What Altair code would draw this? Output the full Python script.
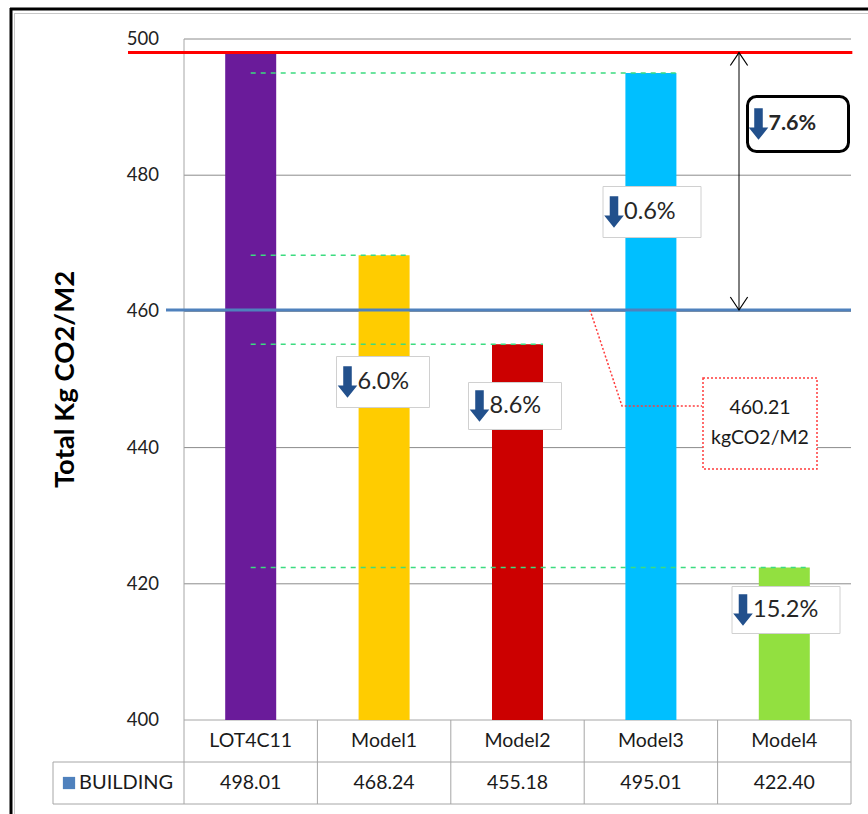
import altair as alt
import pandas as pd

# ---- data -------------------------------------------------------------
categories = ["LOT4C11", "Model1", "Model2", "Model3", "Model4"]
values = [498.01, 468.24, 455.18, 495.01, 422.40]
bar_colors = ["#6A1B9A", "#FFCC00", "#CC0000", "#00BFFF", "#92E040"]
target_value = 460.21
target_unit = "kgCO2/M2"
series_name = "BUILDING"
y_ticks = [400, 420, 440, 460, 480, 500]
y_title = "Total Kg CO2/M2"

base_value = values[0]

# ---- layout -----------------------------------------------------------
W, H = 868, 814
PL, PT, PR, PB = 184, 39, 851, 720          # plot rectangle in page pixels
Y_MIN, Y_MAX = 400, 500
N = len(categories)
PX_X = (PR - PL) / N                        # pixels per category slot
PX_Y = (PB - PT) / (Y_MAX - Y_MIN)          # pixels per kg
BAR_HALF = 25.5 / PX_X
FONT = "Lato"


def ux(px):
    return (px - PL) / PX_X - 0.5


def vy(py):
    return Y_MAX - (py - PT) / PX_Y


ROW1 = vy(762)       # bottom of category row
ROW2 = vy(804)       # bottom of value row
TABLE_LEFT = ux(53)

xs = alt.Scale(domain=[-0.5, N - 0.5])
ys = alt.Scale(domain=[Y_MIN, Y_MAX])


def X(f):
    return alt.X(f"{f}:Q", scale=xs, axis=None)


def Y(f):
    return alt.Y(f"{f}:Q", scale=ys, axis=None)


# ---- bars -------------------------------------------------------------
bars_df = pd.DataFrame({"category": categories, "idx": list(range(N)), "value": values})
bars_df["x0"] = bars_df["idx"] - BAR_HALF
bars_df["x1"] = bars_df["idx"] + BAR_HALF
bars_df["floor"] = Y_MIN

bars = alt.Chart(bars_df).mark_rect().encode(
    x=X("x0"), x2="x1", y=Y("floor"), y2="value",
    color=alt.Color("category:N", scale=alt.Scale(domain=categories, range=bar_colors), legend=None),
)

# ---- grid, plot frame and table lines --------------------------------
grid_df = pd.DataFrame({"y": [t for t in y_ticks if t > Y_MIN], "x0": -0.5, "x1": N - 0.5})
grid = alt.Chart(grid_df).mark_rule(color="#8C8C8C", strokeWidth=1).encode(
    x=X("x0"), x2="x1", y=Y("y"))

hlines_df = pd.DataFrame({
    "y": [Y_MIN, ROW1, ROW2],
    "x0": [-0.5, TABLE_LEFT, TABLE_LEFT],
    "x1": [N - 0.5] * 3,
})
hlines = alt.Chart(hlines_df).mark_rule(color="#A6A6A6", strokeWidth=1).encode(
    x=X("x0"), x2="x1", y=Y("y"))

vlines_df = pd.DataFrame({
    "x": [TABLE_LEFT] + [i - 0.5 for i in range(N + 1)],
    "y0": [ROW1] + [Y_MAX] + [Y_MIN] * N,
    "y1": [ROW2] * (N + 2),
})
vlines = alt.Chart(vlines_df).mark_rule(color="#A6A6A6", strokeWidth=1).encode(
    x=X("x"), y=Y("y0"), y2="y1")

# ---- table text -------------------------------------------------------
cat_df = pd.DataFrame({"x": list(range(N)), "y": (Y_MIN + ROW1) / 2, "t": categories})
cat_text = alt.Chart(cat_df).mark_text(font=FONT, fontSize=19.5, color="#1A1A1A").encode(
    x=X("x"), y=Y("y"), text="t:N")

val_df = pd.DataFrame({"x": list(range(N)), "y": (ROW1 + ROW2) / 2,
                       "t": [f"{v:.2f}" for v in values]})
val_text = alt.Chart(val_df).mark_text(font=FONT, fontSize=19.5, color="#1A1A1A").encode(
    x=X("x"), y=Y("y"), text="t:N")

legend_sq = alt.Chart(pd.DataFrame({"x": [ux(69)], "y": [(ROW1 + ROW2) / 2]})).mark_point(
    shape="square", filled=True, size=150, color="#4F81BD", opacity=1).encode(x=X("x"), y=Y("y"))
legend_txt = alt.Chart(pd.DataFrame({"x": [ux(79)], "y": [(ROW1 + ROW2) / 2], "t": [series_name]})).mark_text(
    font=FONT, fontSize=20, color="#1A1A1A", align="left").encode(x=X("x"), y=Y("y"), text="t:N")

# ---- y axis labels and title -----------------------------------------
tick_df = pd.DataFrame({"y": y_ticks, "x": ux(159), "t": [str(t) for t in y_ticks]})
tick_text = alt.Chart(tick_df).mark_text(font=FONT, fontSize=18.5, color="#222222", align="right").encode(
    x=X("x"), y=Y("y"), text="t:N")

title_text = alt.Chart(pd.DataFrame({"x": [ux(66)], "y": [(Y_MIN + Y_MAX) / 2], "t": [y_title]})).mark_text(
    font=FONT, fontSize=27.5, fontWeight="bold", color="#000000", angle=270).encode(
    x=X("x"), y=Y("y"), text="t:N")

# ---- reference lines --------------------------------------------------
base_line = alt.Chart(pd.DataFrame({"y": [base_value], "x0": [ux(128)], "x1": [N - 0.5 + 0.01]})).mark_rule(
    strokeWidth=3, color="#FF0000").encode(x=X("x0"), x2="x1", y=Y("y"))
target_line = alt.Chart(pd.DataFrame({"y": [target_value], "x0": [ux(166)], "x1": [N - 0.5]})).mark_rule(
    strokeWidth=3, color="#4F81BD").encode(x=X("x0"), x2="x1", y=Y("y"))

dash_df = bars_df.iloc[1:].copy()
dash_df["start"] = 0.0
dashes = alt.Chart(dash_df).mark_rule(color="#3CDC80", strokeWidth=1.6, strokeDash=[5, 5]).encode(
    x=X("start"), x2="x1", y=Y("value"))

# ---- double-headed arrow between baseline and target -----------------
ARROW_X = ux(739)
span = alt.Chart(pd.DataFrame({"x": [ARROW_X], "y0": [base_value], "y1": [target_value]})).mark_rule(
    color="#000000", strokeWidth=1).encode(x=X("x"), y=Y("y0"), y2="y1")
head_up = alt.Chart(pd.DataFrame({"x": [ARROW_X], "y": [base_value]})).mark_point(
    shape="M-1,1.5L0,0L1,1.5", size=300, filled=False, color="#000000", strokeWidth=1.2, opacity=1).encode(
    x=X("x"), y=Y("y"))
head_dn = alt.Chart(pd.DataFrame({"x": [ARROW_X], "y": [target_value]})).mark_point(
    shape="M-1,-1.5L0,0L1,-1.5", size=300, filled=False, color="#000000", strokeWidth=1.2, opacity=1).encode(
    x=X("x"), y=Y("y"))

# ---- target call-out ---------------------------------------------------
leader_df = pd.DataFrame({
    "x": [ux(590), ux(622), ux(702)],
    "y": [target_value, vy(406), vy(406)],
    "o": [0, 1, 2],
})
leader = alt.Chart(leader_df).mark_line(color="#FF3B3B", strokeWidth=1.5, strokeDash=[2, 2]).encode(
    x=X("x"), y=Y("y"), order="o:Q")

callout_box = alt.Chart(pd.DataFrame({"x0": [ux(703)], "x1": [ux(817)], "y0": [vy(378)], "y1": [vy(469)]})).mark_rect(
    fill="#FFFFFF", stroke="#FF3B3B", strokeWidth=1.5, strokeDash=[2, 2]).encode(
    x=X("x0"), x2="x1", y=Y("y0"), y2="y1")

callout_txt = alt.Chart(pd.DataFrame({
    "x": [ux(760), ux(760)],
    "y": [vy(408), vy(438)],
    "t": [f"{target_value:.2f}", target_unit],
})).mark_text(font=FONT, fontSize=19.5, color="#1A1A1A").encode(x=X("x"), y=Y("y"), text="t:N")

# ---- reduction labels ---------------------------------------------------
pcts = [(base_value - v) / base_value * 100 for v in values[1:]] + [(base_value - target_value) / base_value * 100]
# box centre (page px), box width, box height
boxes_px = [(383, 382, 93, 51), (515, 406, 93, 47), (652, 212, 98, 51), (786, 610, 108, 47), (798, 124, 101, 55)]

lab_df = pd.DataFrame({
    "t": [f"{p:.1f}%" for p in pcts],
    "x0": [ux(cx - w / 2) for cx, cy, w, h in boxes_px],
    "x1": [ux(cx + w / 2) for cx, cy, w, h in boxes_px],
    "y0": [vy(cy - h / 2) for cx, cy, w, h in boxes_px],
    "y1": [vy(cy + h / 2) for cx, cy, w, h in boxes_px],
    "yc": [vy(cy) for cx, cy, w, h in boxes_px],
    "ax": [ux(cx - w / 2 + 11) for cx, cy, w, h in boxes_px],
    "tx": [ux(cx - w / 2 + 21) for cx, cy, w, h in boxes_px],
    "kind": ["bar"] * 4 + ["total"],
})

plain = lab_df[lab_df.kind == "bar"]
total = lab_df[lab_df.kind == "total"]

lab_boxes = alt.Chart(plain).mark_rect(fill="#FFFFFF", stroke="#D0D0D0", strokeWidth=1).encode(
    x=X("x0"), x2="x1", y=Y("y0"), y2="y1")
total_box = alt.Chart(total).mark_rect(fill="#FFFFFF", stroke="#000000", strokeWidth=3, cornerRadius=9).encode(
    x=X("x0"), x2="x1", y=Y("y0"), y2="y1")

DOWN_ARROW = "M-0.27,-1L0.27,-1L0.27,0.22L0.62,0.22L0,1L-0.62,0.22L-0.27,0.22Z"
lab_arrows = alt.Chart(lab_df).mark_point(
    shape=DOWN_ARROW, size=1000, filled=True, color="#22508C", opacity=1).encode(x=X("ax"), y=Y("yc"))

lab_text = alt.Chart(plain).mark_text(font=FONT, fontSize=23.5, color="#262626", align="left").encode(
    x=X("tx"), y=Y("yc"), text="t:N")
total_text = alt.Chart(total).mark_text(font=FONT, fontSize=21.5, fontWeight="bold", color="#262626",
                                        align="left").encode(x=X("tx"), y=Y("yc"), text="t:N")

# ---- outer frame --------------------------------------------------------
frame_top = alt.Chart(pd.DataFrame({"a": [0]})).mark_rule(color="#000000", strokeWidth=3).encode(
    x=alt.value(10 - PL), x2=alt.value(W - PL), y=alt.value(9 - PT))
frame_left = alt.Chart(pd.DataFrame({"a": [0]})).mark_rule(color="#000000", strokeWidth=3).encode(
    x=alt.value(11 - PL), y=alt.value(8 - PT), y2=alt.value(H - PT))
frame_top_in = alt.Chart(pd.DataFrame({"a": [0]})).mark_rule(color="#C8C8C8", strokeWidth=1).encode(
    x=alt.value(14 - PL), x2=alt.value(W - PL), y=alt.value(13.5 - PT))
frame_left_in = alt.Chart(pd.DataFrame({"a": [0]})).mark_rule(color="#C8C8C8", strokeWidth=1).encode(
    x=alt.value(14.5 - PL), y=alt.value(13 - PT), y2=alt.value(H - PT))

chart = alt.layer(
    grid, hlines, vlines,
    bars, dashes, base_line, target_line,
    span, head_up, head_dn,
    leader, callout_box, callout_txt,
    lab_boxes, total_box, lab_arrows, lab_text, total_text,
    tick_text, title_text, cat_text, val_text, legend_sq, legend_txt,
    frame_top, frame_left, frame_top_in, frame_left_in,
).properties(
    width=PR - PL,
    height=PB - PT,
    padding={"left": PL, "top": PT, "right": W - PR, "bottom": H - PB},
    autosize=alt.AutoSizeParams(type="none"),
    background="#FFFFFF",
).configure_view(stroke=None)

chart.save("out.html", embed_options={"renderer": "svg", "actions": False})
